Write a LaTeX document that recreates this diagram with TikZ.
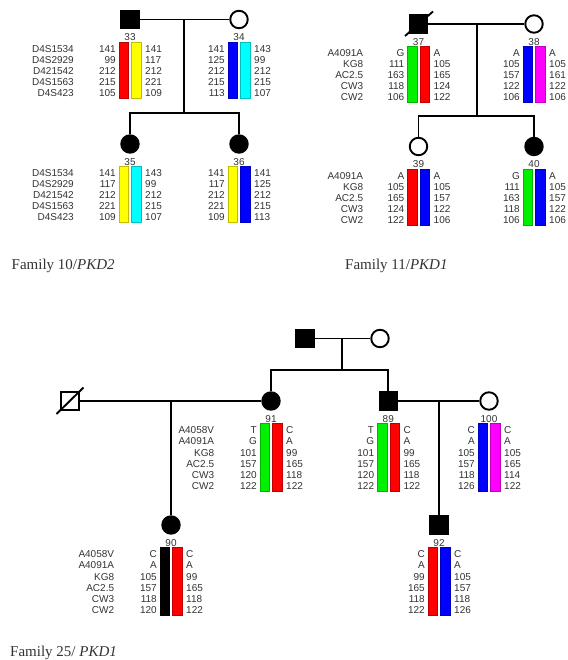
\documentclass[tikz,border=0pt]{standalone}
\usepackage{fontspec}
\setmainfont{Liberation Serif}
\newfontfamily\smallsans{Liberation Sans}
\usetikzlibrary{calc}
\definecolor{txt}{gray}{0.2}
\definecolor{hred}{RGB}{255,0,0}
\definecolor{hyel}{RGB}{255,255,0}
\definecolor{hblue}{RGB}{0,0,255}
\definecolor{hcyan}{RGB}{0,255,255}
\definecolor{hgreen}{RGB}{0,240,0}
\definecolor{hmag}{RGB}{255,0,255}
\definecolor{hblack}{RGB}{0,0,0}
\tikzset{
 sym/.style={draw=black, line width=1.9pt, minimum size=17.5pt, inner sep=0pt},
 male/.style={sym, rectangle, fill=black},
 maleopen/.style={sym, rectangle, fill=white},
 femaleaff/.style={sym, circle, fill=black},
 female/.style={sym, circle, fill=white},
 lab/.style={font=\smallsans\fontsize{10}{10}\selectfont, text=txt, inner sep=0pt, text height=7.2pt, text depth=0pt},
 lal/.style={lab, anchor=east},
 ral/.style={lab, anchor=west},
 idlab/.style={lab, anchor=center},
 fam/.style={font=\fontsize{15}{15}\selectfont, text=txt, inner sep=0pt, anchor=base west},
 conn/.style={line width=1.9pt, draw=black},
 barline/.style={line width=0.4pt}
}
\def\hrowsep{11}
\newcommand\hap[9]{%
 \node[idlab] (#1id) at (#2,#3+17.5) {#4};
 \pgfmathsetmacro\hapbot{#3+29+(#5-1)*\hrowsep+5.5}
 \filldraw[fill=#6, draw=#6!75!black, barline] (#2-11,#3+22.5) rectangle (#2-1.5,\hapbot);
 \filldraw[fill=#7, draw=#7!75!black, barline] (#2+1.5,#3+22.5) rectangle (#2+11,\hapbot);
 \foreach \v [count=\i] in {#8} {\node[lal] (#1L\i) at (#2-14,#3+29+\i*\hrowsep-\hrowsep) {\v};}
 \foreach \v [count=\i] in {#9} {\node[ral] (#1R\i) at (#2+15,#3+29+\i*\hrowsep-\hrowsep) {\v};}
}
\begin{document}
\begin{tikzpicture}[x=1pt,y=-1pt]
\useasboundingbox (0,0) rectangle (567,660);
\fill[white] (0,0) rectangle (567,660);

% ---------------- Family 10 ----------------
\def\hrowsep{11}
\node[male] (p33) at (130,19.5) {};
\node[female] (p34) at (239,19.5) {};
\node[femaleaff] (p35) at (130,144) {};
\node[femaleaff] (p36) at (239,144) {};
\coordinate (m10) at (184,19.5);
\coordinate (s10) at (184,113);
\draw[conn] (p33) -- (p34);
\draw[conn] (m10) -- (s10);
\draw[conn] (p35) |- (s10) -| (p36);
\foreach \m [count=\i] in {D4S1534,D4S2929,D421542,D4S1563,D4S423}
 {\node[lal] (mk10a\i) at (74,48.5+\i*11-11) {\m};
  \node[lal] (mk10b\i) at (74,173+\i*11-11) {\m};}
\hap{p33}{130}{19.5}{33}{5}{hred}{hyel}{141,99,212,215,105}{141,117,212,221,109}
\hap{p34}{239}{19.5}{34}{5}{hblue}{hcyan}{141,125,212,215,113}{143,99,212,215,107}
\hap{p35}{130}{144}{35}{5}{hyel}{hcyan}{141,117,212,221,109}{143,99,212,215,107}
\hap{p36}{239}{144}{36}{5}{hyel}{hblue}{141,117,212,221,109}{141,125,212,215,113}
\node[fam] (f10) at (11.5,269.3) {Family 10/\textit{PKD2}};

% ---------------- Family 11 ----------------
\node[male] (p37) at (418.5,24) {};
\node[female] (p38) at (534,24) {};
\node[female] (p39) at (418.5,146.5) {};
\node[femaleaff] (p40) at (534,146.5) {};
\coordinate (m11) at (476.7,24);
\coordinate (s11) at (476.7,116);
\draw[conn] (p37) -- (p38);
\draw[conn] ($(p37)+(-13.5,12)$) -- ($(p37)+(14.5,-12.5)$);
\draw[conn] (m11) -- (s11);
\draw[conn] (p39) |- (s11) -| (p40);
\foreach \m [count=\i] in {A4091A,KG8,AC2.5,CW3,CW2}
 {\node[lal] (mk11a\i) at (363.3,53+\i*11-11) {\m};
  \node[lal] (mk11b\i) at (363.3,175.5+\i*11-11) {\m};}
\hap{p37}{418.5}{24}{37}{5}{hgreen}{hred}{G,111,163,118,106}{A,105,165,124,122}
\hap{p38}{534}{24}{38}{5}{hblue}{hmag}{A,105,157,122,106}{A,105,161,122,106}
\hap{p39}{418.5}{146.5}{39}{5}{hred}{hblue}{A,105,165,124,122}{A,105,157,122,106}
\hap{p40}{534}{146.5}{40}{5}{hgreen}{hblue}{G,111,163,118,106}{A,105,157,122,106}
\node[fam] (f11) at (345,269.3) {Family 11/\textit{PKD1}};

% ---------------- Family 25 ----------------
\def\hrowsep{11.2}
\node[male] (g1) at (305,338.5) {};
\node[female] (g2) at (380,338.5) {};
\node[maleopen] (d25) at (70,401) {};
\node[femaleaff] (p91) at (271,401) {};
\node[male] (p89) at (388.3,401) {};
\node[female] (p100) at (489,401) {};
\node[femaleaff] (p90) at (171,525) {};
\node[male] (p92) at (439,525) {};
\coordinate (m25a) at (342.3,338.5);
\coordinate (s25a) at (342.3,370);
\coordinate (m25b) at (171,401);
\coordinate (m25c) at (439,401);
\draw[conn] (g1) -- (g2);
\draw[conn] (m25a) -- (s25a);
\draw[conn] (p91) |- (s25a) -| (p89);
\draw[conn] (d25) -- (p91);
\draw[conn] ($(d25)+(-13.5,13)$) -- ($(d25)+(13.5,-13.5)$);
\draw[conn] (m25b) -- (p90);
\draw[conn] (p89) -- (p100);
\draw[conn] (m25c) -- (p92);
\foreach \m [count=\i] in {A4058V,A4091A,KG8,AC2.5,CW3,CW2}
 {\node[lal] (mk25a\i) at (214.3,430+\i*11.2-11.2) {\m};
  \node[lal] (mk25b\i) at (114.3,554+\i*11.2-11.2) {\m};}
\hap{p91}{271}{401}{91}{6}{hgreen}{hred}{T,G,101,157,120,122}{C,A,99,165,118,122}
\hap{p89}{388.3}{401}{89}{6}{hgreen}{hred}{T,G,101,157,120,122}{C,A,99,165,118,122}
\hap{p100}{489}{401}{100}{6}{hblue}{hmag}{C,A,105,157,118,126}{C,A,105,165,114,122}
\hap{p90}{171}{525}{90}{6}{hblack}{hred}{C,A,105,157,118,120}{C,A,99,165,118,122}
\hap{p92}{439}{525}{92}{6}{hred}{hblue}{C,A,99,165,118,122}{C,A,105,157,118,126}
\node[fam] (f25) at (10,656) {Family 25/ \textit{PKD1}};
\end{tikzpicture}
\end{document}
